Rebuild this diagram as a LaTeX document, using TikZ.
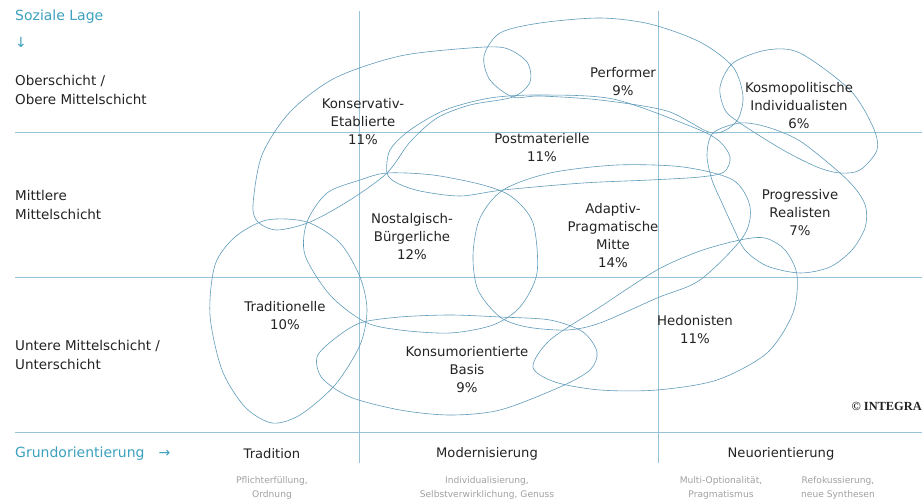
\documentclass[tikz,border=0pt]{standalone}
\usepackage{fontspec}
\setmainfont{DejaVu Sans}
\newfontfamily\copyfont{Liberation Serif}
\usepackage{tikz}
\usepackage{xcolor}

\definecolor{achse}{RGB}{60,160,190}
\definecolor{rasterblau}{RGB}{150,195,215}
\definecolor{umriss}{RGB}{95,155,185}
\definecolor{schrift}{RGB}{35,35,35}
\definecolor{hellgrau}{RGB}{160,160,160}

\tikzset{
  milieu/.style={align=center, inner sep=0pt, text=schrift, font=\fontsize{13.3}{18}\selectfont},
  schicht/.style={anchor=west, align=left, inner sep=0pt, text=schrift, font=\fontsize{13.5}{18.5}\selectfont},
  kopf/.style={inner sep=0pt, text=schrift, font=\fontsize{13.1}{15}\selectfont},
  unterzeile/.style={align=center, inner sep=0pt, text=hellgrau, font=\fontsize{9.1}{14}\selectfont},
  achsentext/.style={anchor=west, inner sep=0pt, text=achse, font=\fontsize{14}{16}\selectfont},
  rasterlinie/.style={draw=rasterblau, line width=0.8pt},
  blob/.style={draw=umriss, line width=0.6pt}
}

\begin{document}
\begin{tikzpicture}[x=1pt, y=-1pt]
        \useasboundingbox (0,0) rectangle (922,501);
        % raster
        \foreach \y in {132, 277, 432} {
            \draw[rasterlinie] (15,\y) -- (922,\y);
        }
        \foreach \x in {359, 658} {
            \draw[rasterlinie] (\x,11) -- (\x,463);
        }
        % milieus
        \draw[blob] plot[smooth cycle] coordinates {(253,205) (262,155) (290,112) (335,78) (400,56) (470,48) (505,48) (527,62) (530,82) (513,97) (470,105) (437,118) (410,142) (387,173) (350,200) (310,222) (277,230) (258,222)};
        \draw[blob] plot[smooth cycle] coordinates {(484,56) (500,33) (540,23) (600,18) (650,24) (700,42) (733,67) (743,97) (736,122) (712,133) (667,111) (600,100) (540,96) (513,97) (490,80)};
        \draw[blob] plot[smooth cycle] coordinates {(720,87) (733,63) (767,50) (800,53) (850,90) (873,127) (877,150) (860,170) (840,173) (817,167) (783,150) (740,123) (725,110)};
        \draw[blob] plot[smooth cycle] coordinates {(387,173) (390,150) (410,130) (445,110) (490,98) (540,95) (613,99) (690,126) (718,140) (730,157) (724,172) (700,177) (650,180) (583,183) (503,190) (460,196) (420,191) (397,183)};
        \draw[blob] plot[smooth cycle] coordinates {(307,222) (327,193) (360,180) (387,173) (433,175) (483,185) (512,197) (533,223) (537,273) (520,307) (493,325) (450,333) (400,330) (365,322) (330,295) (305,255)};
        \draw[blob] plot[smooth cycle] coordinates {(473,255) (480,218) (503,190) (550,173) (617,165) (683,167) (733,180) (750,207) (743,237) (700,280) (657,298) (600,323) (567,330) (527,327) (500,317) (478,290)};
        \draw[blob] plot[smooth cycle] coordinates {(713,133) (707,155) (712,180) (722,203) (733,227) (745,250) (767,266) (800,273) (830,267) (852,250) (865,228) (866,208) (858,192) (840,173) (800,141) (767,127) (740,123)};
        \draw[blob] plot[smooth cycle] coordinates {(307,222) (340,243) (360,277) (367,310) (360,345) (335,385) (300,415) (272,423) (245,407) (222,370) (210,315) (215,265) (235,237) (267,220)};
        \draw[blob] plot[smooth cycle] coordinates {(317,357) (333,340) (360,323) (400,317) (450,315) (500,317) (550,320) (583,332) (597,352) (590,370) (560,387) (500,410) (450,415) (400,410) (350,397) (322,378)};
        \draw[blob] plot[smooth cycle] coordinates {(533,367) (550,340) (600,307) (657,270) (700,251) (740,240) (765,238) (785,250) (797,275) (793,313) (767,353) (717,380) (657,390) (600,390) (555,382)};
        % milieu-namen
        \node[milieu] (konserv) at (363,122) {Konservativ-\\Etablierte\\11\%};
        \node[milieu] (perform) at (623,82) {Performer\\9\%};
        \node[milieu] (kosmo) at (799,106) {Kosmopolitische\\Individualisten\\6\%};
        \node[milieu] (postmat) at (542,148) {Postmaterielle\\11\%};
        \node[milieu] (nostalg) at (412,237) {Nostalgisch-\\Bürgerliche\\12\%};
        \node[milieu] (adaptiv) at (613,236) {Adaptiv-\\Pragmatische\\Mitte\\14\%};
        \node[milieu] (progr) at (800,213) {Progressive\\Realisten\\7\%};
        \node[milieu] (tradit) at (285,316) {Traditionelle\\10\%};
        \node[milieu] (konsum) at (467,370) {Konsumorientierte\\Basis\\9\%};
        \node[milieu] (hedon) at (695,330) {Hedonisten\\11\%};
        % achsen
        \node[achsentext] (lage) at (15,17) {Soziale Lage};
        \node[text=achse, inner sep=0pt, font=\fontsize{14}{16}\selectfont] (lagepfeil) at (21,42) {↓};
        \node[schicht] (ober) at (15,90) {Oberschicht /\\Obere Mittelschicht};
        \node[schicht] (mitte) at (15,205) {Mittlere\\Mittelschicht};
        \node[schicht] (unter) at (15,355) {Untere Mittelschicht /\\Unterschicht};
        \node[achsentext] (grund) at (15,454) {Grundorientierung\quad→};
        \node[kopf] (tradition) at (272,454) {Tradition};
        \node[kopf] (modern) at (487,454) {Modernisierung};
        \node[kopf] (neu) at (781,454) {Neuorientierung};
        \node[unterzeile] (pflicht) at (272,488) {Pflichterfüllung,\\Ordnung};
        \node[unterzeile] (individ) at (487,488) {Individualisierung,\\Selbstverwirklichung, Genuss};
        \node[unterzeile] (multi) at (721,488) {Multi-Optionalität,\\Pragmatismus};
        \node[unterzeile] (refok) at (838,488) {Refokussierung,\\neue Synthesen};
        \node[anchor=east, inner sep=0pt, text=schrift, font=\copyfont\bfseries\fontsize{12.4}{14}\selectfont] (integral) at (922,406) {© INTEGRA};
    \end{tikzpicture}
\end{document}
